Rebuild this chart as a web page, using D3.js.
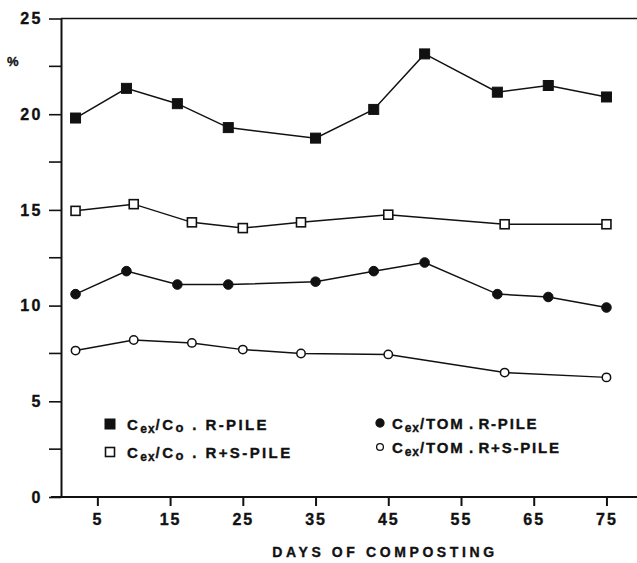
<!DOCTYPE html>
<html>
<head>
<meta charset="utf-8">
<script src="https://cdn.jsdelivr.net/npm/d3@7"></script>
<style>
  body { margin: 0; background: #fff; }
  text { font-family: "Liberation Sans", Arial, sans-serif; font-weight: bold; fill: #111; stroke: #111; stroke-width: 0.35px; }
</style>
</head>
<body>
<div id="chart"></div>
<script>
var w = 637, h = 563;

// days of sampling for each pile
var daysR = [2, 9, 16, 23, 35, 43, 50, 60, 67, 75];
var daysRS = [2, 10, 18, 25, 33, 45, 61, 75];

// Cex/Co values (%)
var coR = [19.8, 21.35, 20.55, 19.3, 18.75, 20.25, 23.15, 21.15, 21.5, 20.9];
var coRS = [14.95, 15.3, 14.35, 14.05, 14.35, 14.75, 14.25, 14.25];

// Cex/TOM values (%)
var tomR = [10.6, 11.8, 11.1, 11.1, 11.25, 11.8, 12.25, 10.6, 10.45, 9.9];
var tomRS = [7.65, 8.2, 8.05, 7.7, 7.5, 7.45, 6.5, 6.25];

var xTicks = [5, 15, 25, 35, 45, 55, 65, 75];
var yTicks = [0, 5, 10, 15, 20, 25];
var yMinor = [2.5, 7.5, 12.5, 17.5, 22.5];

var svg = d3.select("#chart").append("svg")
    .attr("width", w).attr("height", h);

var x = d3.scaleLinear().domain([0, 79.2]).range([61, 637]);
var y = d3.scaleLinear().domain([0, 25]).range([497, 18.5]);

// top frame line
svg.append("line")
    .attr("x1", x(0)).attr("x2", 637)
    .attr("y1", y(25)).attr("y2", y(25))
    .attr("stroke", "#111").attr("stroke-width", 1.6);

// x axis
var xAxis = svg.append("g")
    .attr("transform", "translate(0," + y(0) + ")")
    .call(d3.axisBottom(x).tickValues(xTicks).tickSize(9).tickPadding(8).tickSizeOuter(0));
xAxis.select(".domain").attr("stroke", "#111").attr("stroke-width", 2)
    .attr("d", "M" + (x(0) - 10) + ",0H637");
xAxis.selectAll(".tick line").attr("stroke", "#111").attr("stroke-width", 2);
xAxis.selectAll(".tick text").attr("font-size", 16).attr("letter-spacing", 2)
    .attr("font-family", "Liberation Sans, Arial, sans-serif").attr("font-weight", "bold").attr("fill", "#111");

// y axis
var yAxis = svg.append("g")
    .attr("transform", "translate(" + x(0) + ",0)")
    .call(d3.axisLeft(y).tickValues(yTicks).tickSize(12).tickPadding(6).tickSizeOuter(0));
yAxis.select(".domain").attr("stroke", "#111").attr("stroke-width", 2);
yAxis.selectAll(".tick line").attr("stroke", "#111").attr("stroke-width", 1.6);
yAxis.selectAll(".tick text").attr("font-size", 16).attr("letter-spacing", 2.5)
    .attr("font-family", "Liberation Sans, Arial, sans-serif").attr("font-weight", "bold").attr("fill", "#111");

// minor y ticks
svg.append("g").selectAll("line").data(yMinor).enter().append("line")
    .attr("x1", x(0) - 12).attr("x2", x(0))
    .attr("y1", d => y(d)).attr("y2", d => y(d))
    .attr("stroke", "#111").attr("stroke-width", 1.6);

svg.append("text").attr("x", 7).attr("y", 66).attr("font-size", 13).text("%");

svg.append("text")
    .attr("x", 385).attr("y", 557)
    .attr("text-anchor", "middle")
    .attr("font-size", 14).attr("letter-spacing", 3.6)
    .text("DAYS OF COMPOSTING");

var line = d3.line().x(d => x(d[0])).y(d => y(d[1]));

function drawSeries(days, vals, shape, filled) {
    var pts = days.map((d, i) => [d, vals[i]]);
    svg.append("path").datum(pts)
        .attr("d", line).attr("fill", "none")
        .attr("stroke", "#111").attr("stroke-width", 1.5);
    drawMarkers(svg, pts.map(p => [x(p[0]), y(p[1])]), shape, filled);
}

function drawMarkers(g, xy, shape, filled) {
    if (shape == "square") {
        var s = filled ? 10 : 9;
        g.append("g").selectAll("rect").data(xy).enter().append("rect")
            .attr("x", d => d[0] - s / 2).attr("y", d => d[1] - s / 2)
            .attr("width", s).attr("height", s)
            .attr("fill", filled ? "#111" : "#fff")
            .attr("stroke", "#111").attr("stroke-width", filled ? 1 : 1.6);
    } else {
        g.append("g").selectAll("circle").data(xy).enter().append("circle")
            .attr("cx", d => d[0]).attr("cy", d => d[1])
            .attr("r", filled ? 4.8 : 4.2)
            .attr("fill", filled ? "#111" : "#fff")
            .attr("stroke", "#111").attr("stroke-width", filled ? 1 : 1.5);
    }
}

drawSeries(daysRS, tomRS, "circle", false);
drawSeries(daysR, tomR, "circle", true);
drawSeries(daysRS, coRS, "square", false);
drawSeries(daysR, coR, "square", true);

// legend
var legend = [
    { x: 110, y: 424, shape: "square", filled: true, den: "o", pile: "R-PILE" },
    { x: 110, y: 452, shape: "square", filled: false, den: "o", pile: "R+S-PILE" },
    { x: 380, y: 423, shape: "circle", filled: true, den: "TOM", pile: "R-PILE" },
    { x: 380, y: 447, shape: "circle", filled: false, den: "TOM", pile: "R+S-PILE" }
];

legend.forEach(function (d) {
    if (d.shape == "square") {
        drawMarkers(svg, [[d.x, d.y]], "square", d.filled);
    } else {
        svg.append("circle").attr("cx", d.x).attr("cy", d.y).attr("r", d.filled ? 4 : 3.4)
            .attr("fill", d.filled ? "#111" : "#fff").attr("stroke", "#111").attr("stroke-width", 1.3);
    }
    var t = svg.append("text")
        .attr("x", d.x + (d.shape == "square" ? 17 : 12)).attr("y", d.y + 6)
        .attr("font-size", 15).attr("letter-spacing", d.den == "o" ? 2.4 : 1.8);
    t.append("tspan").text("C");
    t.append("tspan").attr("font-size", 12).attr("dy", 3).attr("letter-spacing", 1).text("ex");
    if (d.den == "o") {
        t.append("tspan").attr("dy", -3).text("/C");
        t.append("tspan").attr("font-size", 13).attr("dy", 2).text("o");
        t.append("tspan").attr("dy", -2).text(" . " + d.pile);
    } else {
        t.append("tspan").attr("dy", -3).text("/TOM");
        t.append("tspan").attr("letter-spacing", 0.5).text(" . ");
        t.append("tspan").text(d.pile);
    }
});
</script>
</body>
</html>
